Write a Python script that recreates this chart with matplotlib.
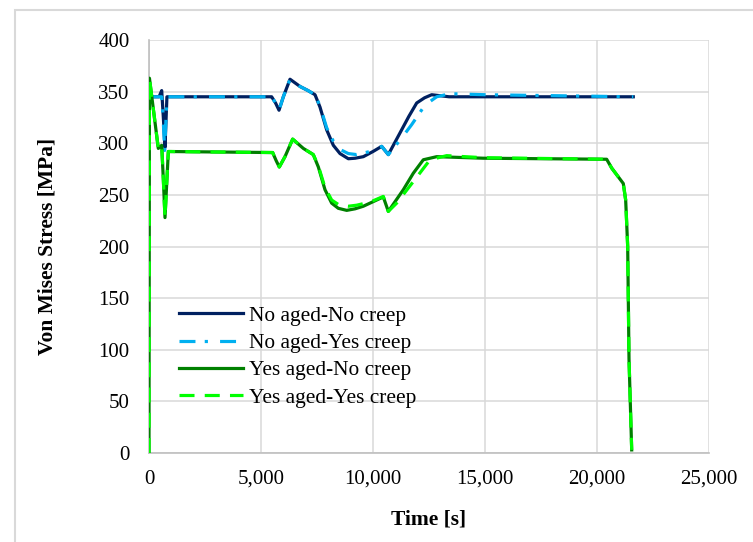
import matplotlib
matplotlib.use("Agg")
import matplotlib.pyplot as plt
from matplotlib.ticker import FuncFormatter
from matplotlib.patches import Rectangle

plt.rcParams['font.family'] = ['Liberation Serif', 'DejaVu Serif']

# ---- data ----
t_na_nc = [0, 450, 567, 640, 714, 800, 5400, 5476, 5650, 5804, 5997, 6295, 6741, 7100, 7411, 7634,
           7932, 8229, 8527, 8899, 9200, 9568, 10000, 10387, 10684, 11205, 11600, 11951, 12300,
           12620, 13400, 21620]
s_na_nc = [345, 345, 351, 325, 296, 345, 345, 345, 339, 332, 345, 362, 355, 351, 347, 335,
           313, 298, 290, 285, 285.5, 287, 292, 297, 289, 310, 326, 339, 344,
           347, 345, 345]

t_na_yc = [0, 500, 567, 640, 700, 800, 5400, 5476, 5650, 5804, 5997, 6295, 6741, 7100, 7411, 7634,
           7932, 8229, 8527, 8899, 9271, 9866, 10387, 10684, 11205, 11726, 12321, 12843, 13438,
           15000, 21620]
s_na_yc = [345, 345, 345, 320, 293, 345, 345, 345, 339, 332, 345, 362, 355, 351, 347, 336,
           315, 302, 294, 290, 289, 292, 297, 289, 303, 318, 337, 345, 348,
           347, 345]

t_ya_nc = [0, 20, 415, 567, 640, 714, 863, 5520, 5680, 5817, 6071, 6414, 6890, 7335, 7560, 7857,
           8155, 8450, 8826, 9200, 9568, 10460, 10684, 11354, 11800, 12246, 12843, 14926, 20432,
           20655, 21174, 21280, 21370, 21429, 21549]
s_ya_nc = [0, 363, 295, 298, 265, 228, 292, 291, 283, 277, 287, 304, 295, 289, 277, 255,
           242, 237, 235, 236.5, 239, 248, 234, 255, 271, 284, 287, 285.5, 284.5,
           276, 261, 245, 200, 91, 3]

t_ya_yc = [0, 20, 415, 567, 640, 714, 863, 5520, 5680, 5817, 6071, 6414, 6890, 7335, 7560, 7857,
           8155, 8500, 8900, 9271, 9868, 10460, 10684, 11056, 11875, 12545, 13290, 14926, 20432,
           20655, 21174, 21280, 21370, 21429, 21549]
s_ya_yc = [0, 363, 295, 298, 265, 228, 292, 291, 283, 277, 287, 304, 295, 289, 278, 257,
           245, 240, 239, 240, 243, 248.5, 234, 242, 265, 284, 288, 286, 284.5,
           276, 261, 245, 200, 91, 3]

labels = ["No aged-No creep", "No aged-Yes creep", "Yes aged-No creep", "Yes aged-Yes creep"]
x_ticks = [0, 5000, 10000, 15000, 20000, 25000]
y_ticks = [0, 50, 100, 150, 200, 250, 300, 350, 400]

# ---- figure ----
fig = plt.figure(figsize=(7.53, 5.42), dpi=100)
fig.patches.append(Rectangle((15/753, -0.1), 1.2, 1.1 - 10/542, transform=fig.transFigure,
                             fill=False, edgecolor='#d9d9d9', linewidth=1.5, zorder=0))
ax = fig.add_axes([149/753, 1 - 453/542, 560/753, 413/542])

lw = 2.3
ax.plot(t_na_nc, s_na_nc, color='#002060', lw=lw, label=labels[0], zorder=3)
ax.plot(t_na_yc, s_na_yc, color='#00B0F0', lw=lw, label=labels[1], zorder=4,
        dashes=(5.0, 2.9, 1.0, 3.8))
ax.plot(t_ya_nc, s_ya_nc, color='#008000', lw=lw, label=labels[2], zorder=5)
ax.plot(t_ya_yc, s_ya_yc, color='#00FF00', lw=lw, label=labels[3], zorder=6,
        dashes=(4.7, 3.2))

ax.set_xlim(0, 25000)
ax.set_ylim(0, 400)
ax.set_xticks(x_ticks)
ax.set_yticks(y_ticks)
ax.xaxis.set_major_formatter(FuncFormatter(lambda v, p: f"{v:,.0f}"))
ax.grid(True, color='#d9d9d9', lw=1.1)
ax.set_axisbelow(True)
for s in ['top', 'right']:
    ax.spines[s].set_visible(False)
for s in ['left', 'bottom']:
    ax.spines[s].set_color('#bfbfbf')
    ax.spines[s].set_linewidth(1.2)
ax.tick_params(axis='both', length=0, labelsize=15)
ax.tick_params(axis='y', pad=14)
ax.tick_params(axis='x', pad=12)

ax.set_xlabel("Time [s]", fontsize=15.5, fontweight='bold', labelpad=15)
ax.set_ylabel("Von Mises Stress [MPa]", fontsize=15.5, fontweight='bold', labelpad=29)

leg = ax.legend(loc='center left', bbox_to_anchor=(0.0536, 0.233), frameon=False,
                fontsize=15.4, handlelength=3.0, handletextpad=0.25, labelspacing=0.35,
                borderpad=0, borderaxespad=0)

fig.savefig("out.png", dpi=100)
